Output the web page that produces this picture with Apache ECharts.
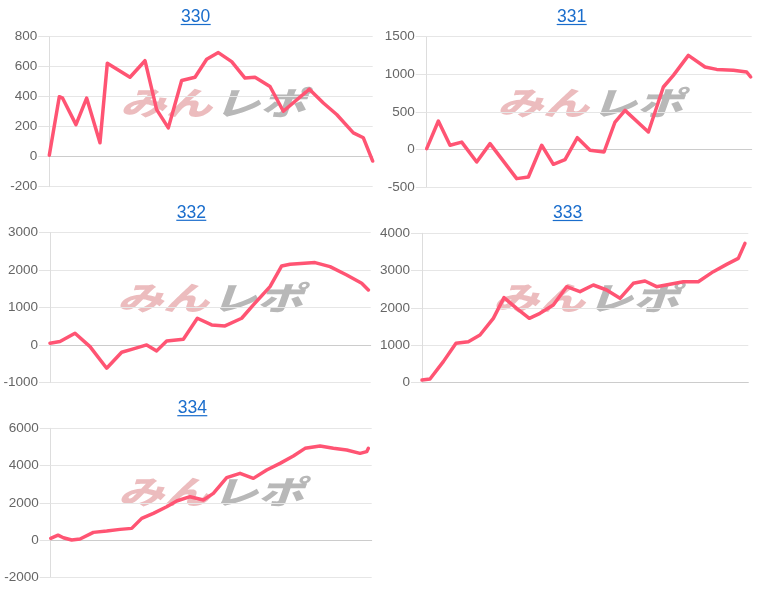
<!DOCTYPE html>
<html>
<head>
<meta charset="utf-8">
<script src="https://cdn.jsdelivr.net/npm/echarts@6/dist/echarts.min.js"></script>
<style>
html,body{margin:0;padding:0;background:#fff;}
#main{width:757px;height:591px;}
</style>
</head>
<body>
<div id="main"></div>
<script>
// ---- data ----
const titles = ['330', '331', '332', '333', '334'];

const x330 = [0,30,40,80,112,152,174,242,287,322,357,397,437,472,507,547,587,617,662,702,780,822,862,912,942,970];
const y330 = [10,400,390,214,391,93,623,530,640,314,192,508,530,650,694,634,524,530,468,303,450,358,281,159,126,-29];

const x331 = [0,35,70,105,150,190,270,305,345,380,415,452,490,532,565,595,665,710,740,785,835,870,920,960,972];
const y331 = [13,380,58,100,-164,80,-385,-363,58,-195,-133,159,-9,-31,367,522,235,832,987,1252,1097,1066,1053,1031,965];

const x332 = [0,30,75,120,170,215,250,290,320,350,400,442,485,525,575,610,660,695,720,795,840,890,935,955];
const y332 = [45,89,312,-45,-623,-196,-107,0,-160,107,151,712,534,508,712,1069,1558,2110,2155,2200,2093,1870,1647,1469];

const x333 = [0,24,64,102,139,174,214,246,284,322,354,394,434,474,514,554,594,634,669,704,744,784,829,874,914,949,969];
const y333 = [63,90,555,1047,1091,1270,1717,2272,1986,1717,1851,2075,2567,2433,2612,2478,2254,2657,2719,2567,2630,2701,2701,2970,3166,3327,3730];

const x334 = [0,22,26,38,63,88,128,168,208,243,273,308,348,378,418,458,488,528,568,608,648,688,728,763,808,848,888,928,948,953];
const y334 = [90,260,160,125,0,54,412,483,573,627,1164,1432,1790,2095,2328,2148,2507,3348,3581,3312,3760,4118,4512,4924,5049,4924,4834,4655,4745,4924];

const xMax = [970, 975, 962, 979, 963];
const yMin = [-200, -500, -1000, 0, -2000];
const yMax = [800, 1500, 3000, 4000, 6000];
const yStep = [200, 500, 1000, 1000, 2000];

const xs = [x330, x331, x332, x333, x334];
const ys = [y330, y331, y332, y333, y334];

// ---- layout ----
const grids = [
  {left: 49.3, top: 36.7, width: 323.4, height: 150},
  {left: 426.7, top: 36.7, width: 325, height: 150.6},
  {left: 50, top: 232.7, width: 320.7, height: 149.6},
  {left: 422, top: 233.3, width: 326.3, height: 149},
  {left: 50.7, top: 428.3, width: 321, height: 149}
];
const titlePos = [[195.7, 16.8, 24.5], [571.7, 16.8, 24.5], [191.3, 212.8, 220.3], [567.7, 212.8, 220.5], [192.3, 407.8, 415.7]];
const markPos = [[213, 103], [590, 103], [210, 298], [586, 298], [211, 492]];

const LINE = '#ff5473';
const LINK = '#1a6dcc';
const FONT = '"Liberation Sans", Arial, sans-serif';
const MARKFONT = 'italic 900 46px "Noto Sans CJK JP", sans-serif';

const chart = echarts.init(document.getElementById('main'), null, {renderer: 'canvas'});

const graphic = [];
titles.forEach((t, i) => {
  const [cx, cy, uy] = titlePos[i];
  graphic.push({
    type: 'text', x: cx, y: cy, z: 10,
    style: {text: t, fill: LINK, font: '17.5px ' + FONT, align: 'center', verticalAlign: 'middle'}
  });
  graphic.push({
    type: 'line', z: 10,
    shape: {x1: cx - 15, y1: uy, x2: cx + 15, y2: uy},
    style: {stroke: LINK, lineWidth: 1.2}
  });
  const [mx, my] = markPos[i];
  graphic.push({
    type: 'group', x: mx, y: my, scaleY: 0.7, z: 0,
    children: [
      {type: 'text', x: -1, y: 0, z: 0,
       style: {text: 'みん', fill: 'rgb(236,188,190)', font: MARKFONT, align: 'right', verticalAlign: 'middle'}},
      {type: 'text', x: 1, y: 0, z: 0,
       style: {text: 'レポ', fill: 'rgb(184,184,184)', font: MARKFONT, align: 'left', verticalAlign: 'middle'}}
    ]
  });
});

const option = {
  animation: false,
  backgroundColor: '#ffffff',
  grid: grids.map(g => Object.assign({containLabel: false}, g)),
  xAxis: grids.map((g, i) => ({
    type: 'value', gridIndex: i, min: 0, max: xMax[i],
    axisLabel: {show: false}, axisTick: {show: false},
    splitLine: {show: false},
    axisLine: {show: true, onZero: true, lineStyle: {color: '#cccccc', width: 1}}
  })),
  yAxis: grids.map((g, i) => ({
    type: 'value', gridIndex: i, min: yMin[i], max: yMax[i], interval: yStep[i],
    axisLine: {show: true, onZero: false, lineStyle: {color: '#dddddd', width: 1}},
    axisTick: {show: true, length: 11, lineStyle: {color: '#e3e3e3'}},
    splitLine: {show: true, lineStyle: {color: '#e6e6e6', width: 1}},
    axisLabel: {color: '#666666', fontSize: 13.5, fontFamily: FONT, margin: 12,
                formatter: v => String(v)}
  })),
  series: xs.map((xv, i) => ({
    type: 'line', xAxisIndex: i, yAxisIndex: i, z: 5,
    data: xv.map((x, k) => [x, ys[i][k]]),
    showSymbol: false, symbol: 'none',
    lineStyle: {color: LINE, width: 3.5, join: 'round', cap: 'round'},
    itemStyle: {color: LINE}
  })),
  graphic: graphic
};
chart.setOption(option);
</script>
</body>
</html>
